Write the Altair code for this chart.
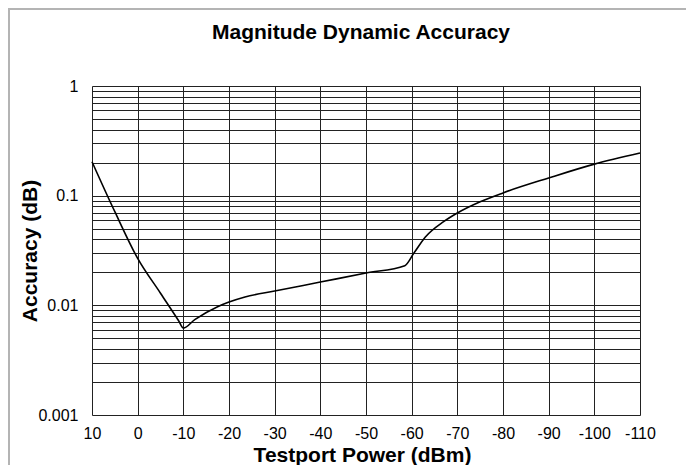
import altair as alt
import pandas as pd

# Curve (Testport power in dBm, accuracy in dB)
power_dbm = [10, 5, 0, -5, -9, -10, -12.5, -17.5, -20, -23.5, -30, -40, -50,
             -58.5, -60.5, -63, -67, -70, -75, -80, -90, -100, -110]
accuracy_db = [0.204, 0.0714, 0.0268, 0.0129, 0.0072, 0.0062, 0.0074, 0.0097,
               0.0107, 0.0119, 0.0135, 0.0163, 0.0197, 0.0230, 0.0300, 0.0420, 0.0580,
               0.0695, 0.0880, 0.106, 0.145, 0.194, 0.245]

x_ticks = [10, 0, -10, -20, -30, -40, -50, -60, -70, -80, -90, -100, -110]
y_grid = [round(k * 10 ** e, 6) for e in (-3, -2, -1) for k in range(1, 10)] + [1]
y_labels = ["0.001", "0.01", "0.1", "1"]
chart_title = ["Magnitude Dynamic Accuracy"]

df = pd.DataFrame({"power": power_dbm, "acc": accuracy_db})
title_df = pd.DataFrame({"t": chart_title})

FONT = "Liberation Sans"
W, H = 548, 329
PAD = {"left": 84, "top": 78, "right": 46, "bottom": 50}

line = alt.Chart(df).mark_line(color="#000", strokeWidth=1.6, interpolate="monotone").encode(
    x=alt.X("power:Q",
            scale=alt.Scale(domain=[-110, 10], reverse=True, nice=False, zero=False),
            axis=alt.Axis(values=x_ticks, grid=True, gridColor="#222", gridWidth=1,
                          ticks=False, domain=False, labelFontSize=16, labelFont=FONT,
                          labelColor="#000", labelPadding=10, labelFlush=False,
                          labelOverlap=False,
                          labelExpr="'' + datum.value",
                          title="Testport Power (dBm)", titleFont=FONT, titleFontSize=21,
                          titleFontWeight="bold", titleColor="#000",
                          titleX=270, titleY=46, titleBaseline="alphabetic",
                          titleAlign="center")),
    y=alt.Y("acc:Q",
            scale=alt.Scale(type="log", domain=[0.001, 1], nice=False),
            axis=alt.Axis(values=y_grid, grid=True, gridColor="#222", gridWidth=1,
                          ticks=False, domain=False, labelFontSize=16, labelFont=FONT,
                          labelColor="#000", labelPadding=14, labelFlush=False,
                          labelOverlap=False,
                          labelExpr="indexof(" + str(y_labels) + ", '' + datum.value) >= 0 ? '' + datum.value : ''",
                          title="Accuracy (dB)", titleFont=FONT, titleFontSize=21,
                          titleFontWeight="bold", titleColor="#000",
                          titleAngle=270, titleX=-62, titleY=H / 2,
                          titleBaseline="middle", titleAlign="center")),
)

title = alt.Chart(title_df).mark_text(font=FONT, fontSize=21, fontWeight="bold",
                                      color="#000", align="center",
                                      baseline="alphabetic", clip=False).encode(
    x=alt.value(W / 2 - 5), y=alt.value(-47), text="t:N"
)

frame_top = alt.Chart(title_df).mark_rule(color="#b4b4b4", strokeWidth=2, clip=False).encode(
    x=alt.value(-84), x2=alt.value(W + PAD["right"]), y=alt.value(-77)
)
frame_left = alt.Chart(title_df).mark_rule(color="#b4b4b4", strokeWidth=2, clip=False).encode(
    x=alt.value(-83), y=alt.value(-77), y2=alt.value(H + PAD["bottom"])
)

chart = alt.layer(frame_top, frame_left, line, title).properties(
    width=W, height=H,
    autosize=alt.AutoSizeParams(type="none"),
    padding=PAD,
).configure_view(stroke="#000", strokeWidth=1).configure(background="white")

chart.save("out.html", embed_options={"renderer": "svg", "actions": False})
